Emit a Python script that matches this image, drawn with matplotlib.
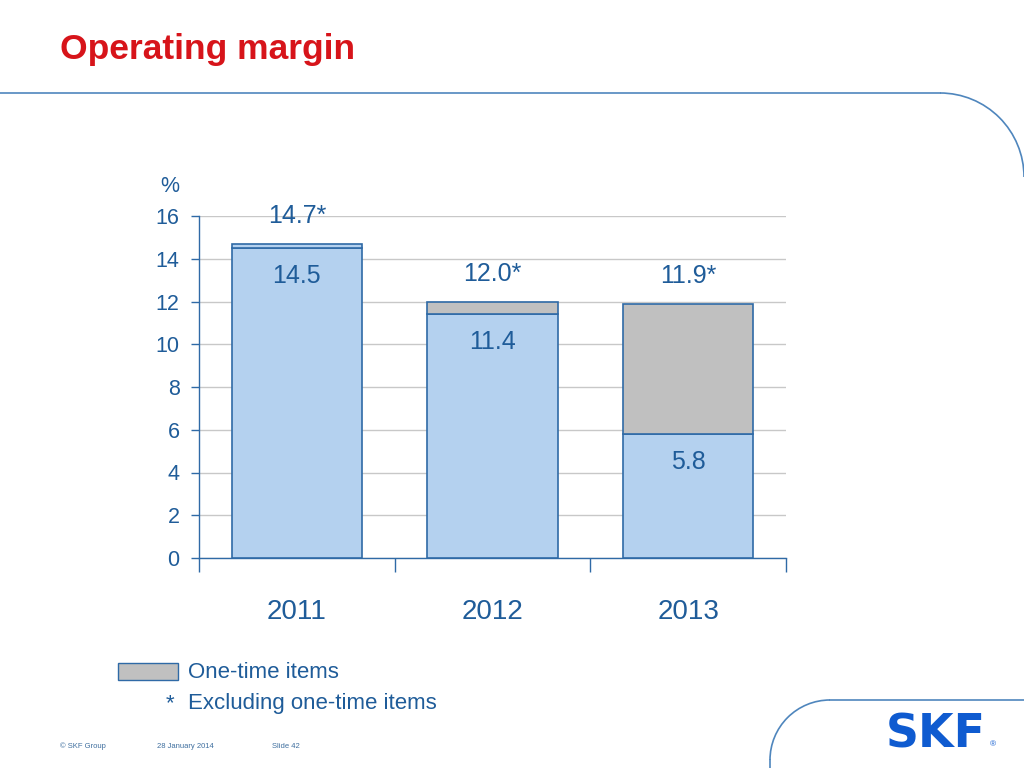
import matplotlib.pyplot as plt
from matplotlib.patches import Rectangle, Arc

# data
years = ['2011', '2012', '2013']
reported = [14.5, 11.4, 5.8]        # operating margin (%)
excl_one_time = [14.7, 12.0, 11.9]  # excluding one-time items (%)
y_ticks = [0, 2, 4, 6, 8, 10, 12, 14, 16]

plt.rcParams['font.family'] = ['Liberation Sans', 'DejaVu Sans']

blue_txt = '#1f5c99'
edge = '#2f6aa6'
light = '#b4d1ef'
grey = '#c0c0c0'

fig = plt.figure(figsize=(10.24, 7.68), dpi=100)

# slide decoration
fig.text(60 / 1024, 1 - 50 / 768, 'Operating margin', color='#d7141a', fontsize=25.5,
         fontweight='bold', va='center', ha='left')
deco = fig.add_axes([0, 0, 1, 1])
deco.set_xlim(0, 1024)
deco.set_ylim(768, 0)
deco.axis('off')
deco.plot([0, 940], [93, 93], color='#4f86bd', lw=1.2)
deco.add_patch(Arc((940, 177), 168, 168, theta1=270, theta2=360, color='#4f86bd', lw=1.2))
deco.plot([830, 1024], [700, 700], color='#4f86bd', lw=1.2)
deco.add_patch(Arc((830, 760), 120, 120, theta1=180, theta2=270, color='#4f86bd', lw=1.2))
deco.plot([770, 770], [760, 768], color='#4f86bd', lw=1.2)

# legend / footnote
deco.add_patch(Rectangle((118, 663), 60, 17, facecolor=grey, edgecolor=edge, lw=1))
deco.text(188, 673, 'One-time items', color=blue_txt, fontsize=16, va='center')
deco.text(166, 704, '*', color=blue_txt, fontsize=16, va='center')
deco.text(188, 704, 'Excluding one-time items', color=blue_txt, fontsize=16, va='center')

# footer
foot = '#3f6f9f'
deco.text(60, 746, '© SKF Group', color=foot, fontsize=5.5, va='center')
deco.text(157, 746, '28 January 2014', color=foot, fontsize=5.5, va='center')
deco.text(272, 746, 'Slide 42', color=foot, fontsize=5.5, va='center')
deco.text(936, 735, 'SKF', color='#0f5bd0', fontsize=33, fontweight='heavy',
          ha='center', va='center', family='DejaVu Sans')
deco.text(993, 745, '®', color='#0f5bd0', fontsize=6, ha='center', va='center')

# chart
ax = fig.add_axes([199 / 1024, 1 - 558 / 768, 587 / 1024, 342 / 768])
x = range(len(years))
one_time = [e - r for e, r in zip(excl_one_time, reported)]
top_colors = [light, grey, grey]
w = 0.665
ax.bar(x, reported, width=w, color=light, edgecolor=edge, linewidth=1.2, zorder=3)
ax.bar(x, one_time, bottom=reported, width=w, color=top_colors, edgecolor=edge,
       linewidth=1.2, zorder=3)

for i in x:
    ax.text(i, reported[i] - 1.3, f'{reported[i]:.1f}', color=blue_txt, fontsize=18,
            ha='center', va='center', zorder=4)
    ax.text(i, excl_one_time[i] + 1.3, f'{excl_one_time[i]:.1f}*', color=blue_txt,
            fontsize=18, ha='center', va='center', zorder=4)

ax.set_xlim(-0.5, 2.5)
ax.set_ylim(0, 16)
ax.set_yticks(y_ticks)
ax.yaxis.grid(True, color='#c8c8c8', lw=1)
ax.set_axisbelow(True)
ax.tick_params(axis='y', colors=edge, labelcolor=blue_txt, labelsize=15.5, length=6,
               width=1, pad=8)
ax.set_xticks([-0.5, 0.5, 1.5, 2.5])
ax.set_xticklabels([])
ax.tick_params(axis='x', colors=edge, length=10, width=1, direction='out')
for i, yr in enumerate(years):
    ax.text(i, -1.9, yr, color=blue_txt, fontsize=20, ha='center', va='top')
ax.text(-0.6, 17.4, '%', color=blue_txt, fontsize=15.5, ha='right', va='center',
        clip_on=False)

for s in ['top', 'right']:
    ax.spines[s].set_visible(False)
for s in ['left', 'bottom']:
    ax.spines[s].set_color(edge)
    ax.spines[s].set_linewidth(1)

fig.savefig('out.png', dpi=100)
